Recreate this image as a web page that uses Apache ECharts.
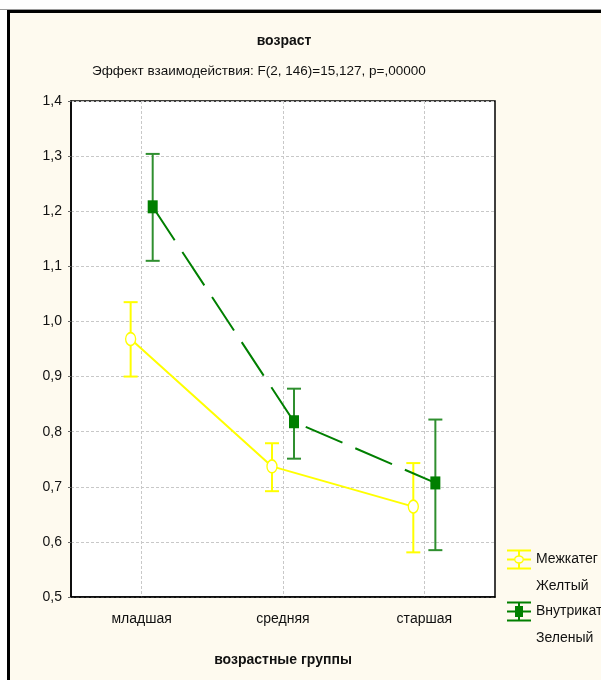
<!DOCTYPE html>
<html>
<head>
<meta charset="utf-8">
<script src="https://cdn.jsdelivr.net/npm/echarts@6/dist/echarts.min.js"></script>
<style>
    html, body { margin: 0; padding: 0; background: #ffffff; }
    #chart { width: 601px; height: 680px; }
</style>
</head>
<body>
<div id="chart"></div>
<script>
var groups = ['младшая', 'средняя', 'старшая'];
var yTicks = [0.5, 0.6, 0.7, 0.8, 0.9, 1.0, 1.1, 1.2, 1.3, 1.4];

// Межкатег (Желтый)
var yellowMean = [0.968, 0.737, 0.664];
var yellowLow = [0.900, 0.692, 0.581];
var yellowHigh = [1.035, 0.779, 0.743];

// Внутрикат (Зеленый)
var greenMean = [1.208, 0.818, 0.707];
var greenLow = [1.110, 0.751, 0.585];
var greenHigh = [1.304, 0.878, 0.822];

var shift = 0.078;
var font = '"Liberation Sans Narrow", "Arial Narrow", "Liberation Sans", sans-serif';
var cream = '#fefaef';

function points(mean, dx) {
    var out = [];
    for (var i = 0; i < mean.length; i++) {
        out.push([i + 1 + dx, mean[i]]);
    }
    return out;
}

function bars(low, high, dx) {
    var out = [];
    for (var i = 0; i < low.length; i++) {
        out.push([i + 1 + dx, low[i], high[i]]);
    }
    return out;
}

function errorBar(color) {
    return function (params, api) {
        var lo = api.coord([api.value(0), api.value(1)]);
        var hi = api.coord([api.value(0), api.value(2)]);
        var w = 7;
        var st = {stroke: color, lineWidth: 2};
        return {
            type: 'group',
            children: [
                {type: 'line', shape: {x1: lo[0], y1: lo[1], x2: hi[0], y2: hi[1]}, style: st},
                {type: 'line', shape: {x1: lo[0] - w, y1: lo[1], x2: lo[0] + w, y2: lo[1]}, style: st},
                {type: 'line', shape: {x1: hi[0] - w, y1: hi[1], x2: hi[0] + w, y2: hi[1]}, style: st}
            ]
        };
    };
}

var secondLine = {'Межкатег': 'Желтый', 'Внутрикат': 'Зеленый'};

var yellowIcon = 'path://M0,0H24V2H0Z M0,18H24V20H0Z M11,2H13V6H11Z M11,14H13V18H11Z M0,9H7V11H0Z M17,9H24V11H17Z ' +
    'M7,10A5,4.2 0 1,1 17,10A5,4.2 0 1,1 7,10Z M8.4,10A3.6,2.8 0 1,0 15.6,10A3.6,2.8 0 1,0 8.4,10Z';
var greenIcon = 'path://M0,0H24V2H0Z M0,18H24V20H0Z M11,2H13V18H11Z M0,9H8V11H0Z M16,9H24V11H16Z M8,4.5H16V15.5H8Z';

function legendFor(name, icon, color, top) {
    return {
        data: [{name: name, icon: icon, itemStyle: {color: color, borderWidth: 0}}],
        left: 507,
        top: top,
        padding: 0,
        itemWidth: 24,
        itemHeight: 20,
        selectedMode: false,
        // blank first line keeps the name level with the icon
        formatter: function (n) {
            return ' \n' + n + '\n' + secondLine[n];
        },
        textStyle: {
            fontFamily: font,
            fontSize: 14,
            color: '#111',
            lineHeight: 27
        }
    };
}

var chart = echarts.init(document.getElementById('chart'));

var option = {
    backgroundColor: '#ffffff',
    animation: false,
    graphic: [
        {type: 'rect', z: -10, silent: true, shape: {x: 0, y: 9, width: 601, height: 1}, style: {fill: '#9a9a9a'}},
        {type: 'rect', z: -10, silent: true, shape: {x: 7, y: 10, width: 594, height: 670}, style: {fill: cream}},
        {type: 'rect', z: -9, silent: true, shape: {x: 7, y: 10, width: 594, height: 3}, style: {fill: '#000'}},
        {type: 'rect', z: -9, silent: true, shape: {x: 7, y: 10, width: 3, height: 670}, style: {fill: '#000'}}
    ],
    title: [
        {
            text: 'возраст',
            left: 284,
            top: 34,
            padding: 0,
            textAlign: 'center',
            textStyle: {fontFamily: font, fontSize: 14, fontWeight: 'bold', color: '#111'}
        },
        {
            text: 'Эффект взаимодействия: F(2, 146)=15,127, p=,00000',
            left: 92,
            top: 64,
            padding: 0,
            textStyle: {fontFamily: font, fontSize: 13.5, fontWeight: 'normal', color: '#111'}
        }
    ],
    legend: [
        legendFor('Межкатег', yellowIcon, '#ffff00', 519),
        legendFor('Внутрикат', greenIcon, '#007f00', 571)
    ],
    grid: {
        left: 71,
        top: 101,
        right: 106,
        bottom: 83,
        show: true,
        backgroundColor: '#ffffff',
        borderColor: '#000',
        borderWidth: 1.5
    },
    xAxis: [
        {
            type: 'category',
            data: groups,
            boundaryGap: true,
            name: 'возрастные группы',
            nameLocation: 'middle',
            nameGap: 56,
            nameTextStyle: {fontFamily: font, fontSize: 14, fontWeight: 'bold', color: '#111'},
            axisLine: {lineStyle: {color: '#000', width: 1.5}},
            axisTick: {inside: true, alignWithLabel: true, length: 4, lineStyle: {color: '#000'}},
            axisLabel: {fontFamily: font, fontSize: 14, color: '#111', margin: 15},
            splitLine: {show: true, alignWithLabel: true, lineStyle: {color: '#c8c8c8', type: [3, 2]}}
        },
        {
            type: 'value',
            min: 0.5,
            max: 3.5,
            show: false
        }
    ],
    yAxis: {
        type: 'value',
        min: 0.5,
        max: 1.4,
        interval: 0.1,
        axisLine: {show: true, lineStyle: {color: '#000', width: 1.5}},
        axisTick: {show: true, length: 3, lineStyle: {color: '#666'}},
        axisLabel: {
            fontFamily: font,
            fontSize: 14,
            color: '#111',
            margin: 9,
            formatter: function (v) {
                return v.toFixed(1).replace('.', ',');
            }
        },
        splitLine: {show: true, lineStyle: {color: '#c8c8c8', type: [3, 2]}}
    },
    series: [
        {
            name: 'Межкатег',
            type: 'line',
            xAxisIndex: 1,
            data: points(yellowMean, -shift),
            symbol: 'circle',
            symbolSize: [10, 13],
            lineStyle: {color: '#ffff00', width: 2},
            itemStyle: {color: '#ffffff', borderColor: '#ffff00', borderWidth: 1.5},
            z: 3
        },
        {
            name: 'Межкатег',
            type: 'custom',
            xAxisIndex: 1,
            data: bars(yellowLow, yellowHigh, -shift),
            renderItem: errorBar('#ffff00'),
            z: 2
        },
        {
            name: 'Внутрикат',
            type: 'line',
            xAxisIndex: 1,
            data: points(greenMean, shift),
            symbol: 'rect',
            symbolSize: [10, 13],
            lineStyle: {color: '#007f00', width: 2, type: [40, 14]},
            itemStyle: {color: '#007f00', borderWidth: 0},
            z: 5
        },
        {
            name: 'Внутрикат',
            type: 'custom',
            xAxisIndex: 1,
            data: bars(greenLow, greenHigh, shift),
            renderItem: errorBar('#2f8f2f'),
            z: 4
        }
    ]
};

chart.setOption(option);
</script>
</body>
</html>
